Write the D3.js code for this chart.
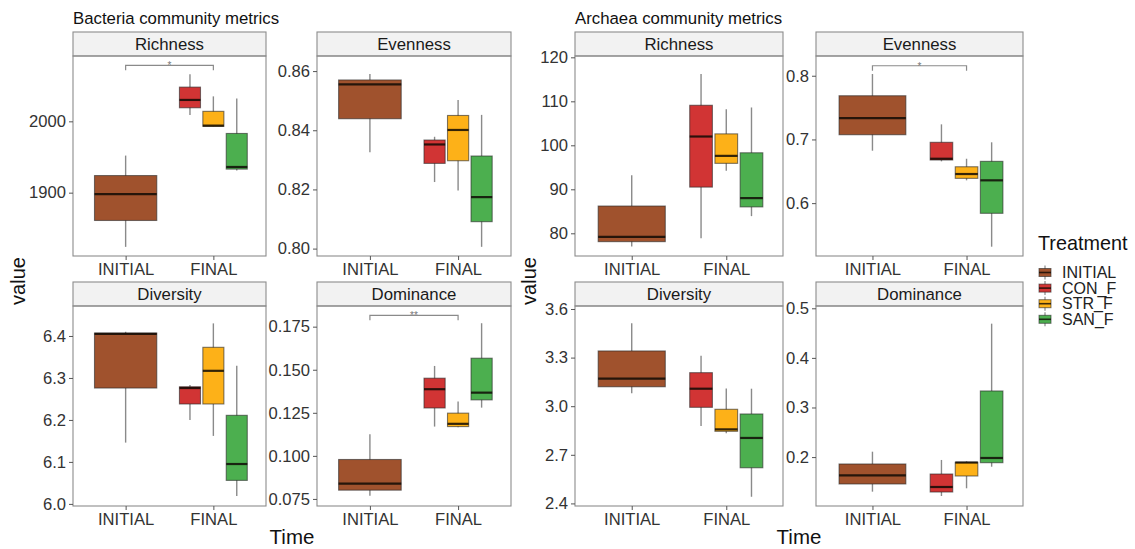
<!DOCTYPE html>
<html>
<head>
<meta charset="utf-8">
<script src="https://cdn.jsdelivr.net/npm/d3@7"></script>
<style>
body { margin: 0; background: #fff; }
svg text { font-family: "Liberation Sans", Arial, sans-serif; }
</style>
</head>
<body>
<svg id="chart" width="1135" height="549"></svg>
<script>
// categories
var treatments = ["INITIAL", "CON_F", "STR_F", "SAN_F"];
var times = ["INITIAL", "FINAL"];
var metrics = ["Richness", "Evenness", "Diversity", "Dominance"];
var groups = ["Bacteria community metrics", "Archaea community metrics"];

// box stats per treatment: [lower whisker, Q1, median, Q3, upper whisker]
var bacRichness = [[1824, 1861, 1898, 1924, 1952], [2009, 2019, 2030, 2048, 2066], [1993, 1993, 1994, 2014, 2035], [1931, 1933, 1936, 1983, 2032]];
var bacEvenness = [[0.8326, 0.8439, 0.8555, 0.8570, 0.8590], [0.8225, 0.8288, 0.8352, 0.8367, 0.8378], [0.8196, 0.8297, 0.8401, 0.8450, 0.8502], [0.8006, 0.8091, 0.8174, 0.8313, 0.8452]];
var bacDiversity = [[6.146, 6.276, 6.405, 6.407, 6.410], [6.200, 6.238, 6.276, 6.279, 6.283], [6.162, 6.238, 6.317, 6.373, 6.430], [6.019, 6.056, 6.095, 6.211, 6.329]];
var bacDominance = [[0.0768, 0.0801, 0.0839, 0.0979, 0.1126], [0.1170, 0.1278, 0.1387, 0.1451, 0.1522], [0.1166, 0.1170, 0.1186, 0.1248, 0.1315], [0.1280, 0.1325, 0.1367, 0.1567, 0.1770]];
var arcRichness = [[77.0, 78.1, 79.2, 86.2, 93.2], [78.9, 90.5, 102.0, 109.1, 116.2], [94.2, 95.9, 97.6, 102.6, 108.2], [83.9, 86.0, 88.0, 98.3, 108.6]];
var arcEvenness = [[0.6823, 0.7074, 0.7336, 0.7686, 0.8027], [0.6656, 0.6677, 0.6697, 0.6955, 0.7237], [0.6358, 0.6389, 0.6457, 0.6571, 0.6697], [0.5316, 0.5840, 0.6358, 0.6656, 0.6955]];
var arcDiversity = [[3.080, 3.120, 3.170, 3.341, 3.512], [2.878, 2.993, 3.108, 3.207, 3.312], [2.833, 2.845, 2.857, 2.981, 3.110], [2.441, 2.620, 2.804, 2.952, 3.108]];
var arcDominance = [[0.1303, 0.1458, 0.1633, 0.1861, 0.2109], [0.1216, 0.1296, 0.1397, 0.1659, 0.1942], [0.1371, 0.1619, 0.1890, 0.1895, 0.1915], [0.1806, 0.1887, 0.1982, 0.3333, 0.4690]];

// y scale limits
var bacRichnessRange = [1811.2, 2091.6];
var bacEvennessRange = [0.7975, 0.8651];
var bacDiversityRange = [5.995, 6.4714];
var bacDominanceRange = [0.0709, 0.187];
var arcRichnessRange = [74.84, 120.3];
var arcEvennessRange = [0.517, 0.831];
var arcDiversityRange = [2.384, 3.6185];
var arcDominanceRange = [0.1014, 0.5046];

// tick labels
var bacRichnessTicks = ["1900", "2000"];
var bacEvennessTicks = ["0.80", "0.82", "0.84", "0.86"];
var bacDiversityTicks = ["6.0", "6.1", "6.2", "6.3", "6.4"];
var bacDominanceTicks = ["0.075", "0.100", "0.125", "0.150", "0.175"];
var arcRichnessTicks = ["80", "90", "100", "110", "120"];
var arcEvennessTicks = ["0.6", "0.7", "0.8"];
var arcDiversityTicks = ["2.4", "2.7", "3.0", "3.3", "3.6"];
var arcDominanceTicks = ["0.2", "0.3", "0.4", "0.5"];

// significance brackets (INITIAL vs FINAL)
var bacRichnessSig = [2078.5, "*"];
var bacDominanceSig = [0.1816, "**"];
var arcEvennessSig = [0.8157, "*"];

var fills = ["#a0522d", "#d13434", "#fdb118", "#4caf4f"];

var svg = d3.select('#chart');
svg.append('rect').attr('width', 1135).attr('height', 549).attr('fill', '#fff');

// layout
var colLeft = [73, 317, 575, 816];
var colRight = [266, 511, 783, 1023];
var stripTop = [32, 282];
var plotTop = [56, 306];
var plotBottom = [256, 506];

var panels = [
    {col: 0, row: 0, metric: 0, stats: bacRichness, range: bacRichnessRange, ticks: bacRichnessTicks, sig: bacRichnessSig},
    {col: 1, row: 0, metric: 1, stats: bacEvenness, range: bacEvennessRange, ticks: bacEvennessTicks},
    {col: 0, row: 1, metric: 2, stats: bacDiversity, range: bacDiversityRange, ticks: bacDiversityTicks},
    {col: 1, row: 1, metric: 3, stats: bacDominance, range: bacDominanceRange, ticks: bacDominanceTicks, sig: bacDominanceSig},
    {col: 2, row: 0, metric: 0, stats: arcRichness, range: arcRichnessRange, ticks: arcRichnessTicks},
    {col: 3, row: 0, metric: 1, stats: arcEvenness, range: arcEvennessRange, ticks: arcEvennessTicks, sig: arcEvennessSig},
    {col: 2, row: 1, metric: 2, stats: arcDiversity, range: arcDiversityRange, ticks: arcDiversityTicks},
    {col: 3, row: 1, metric: 3, stats: arcDominance, range: arcDominanceRange, ticks: arcDominanceTicks}
];

function drawPanel(p) {
    var x0 = colLeft[p.col], x1 = colRight[p.col];
    var top = plotTop[p.row], bottom = plotBottom[p.row];
    var g = svg.append('g');

    var x = d3.scalePoint().domain(times).range([x0, x1]).padding(0.6);
    var y = d3.scaleLinear().domain(p.range).range([bottom, top]);
    var unit = x.step();

    // strip
    g.append('rect')
        .attr('x', x0).attr('y', stripTop[p.row])
        .attr('width', x1 - x0).attr('height', top - stripTop[p.row])
        .attr('fill', '#f2f2f2').attr('stroke', '#8c8c8c').attr('stroke-width', 1.1);
    g.append('text')
        .attr('x', (x0 + x1) / 2).attr('y', (stripTop[p.row] + top) / 2)
        .attr('dy', '0.35em').attr('text-anchor', 'middle')
        .attr('font-size', '16.8px').attr('fill', '#1a1a1a')
        .text(metrics[p.metric]);

    // boxes: INITIAL alone, FINAL dodged into three
    var boxes = p.stats.map(function(s, i) {
        var cx, w;
        if (i === 0) {
            cx = x('INITIAL');
            w = 0.71 * unit;
        } else {
            cx = x('FINAL') + (i - 2) * 0.2667 * unit;
            w = 0.24 * unit;
        }
        return {s: s, cx: cx, w: w, fill: fills[i]};
    });

    var bg = g.selectAll('g.box').data(boxes).enter().append('g').attr('class', 'box');
    bg.append('line')
        .attr('x1', function(d) { return d.cx; }).attr('x2', function(d) { return d.cx; })
        .attr('y1', function(d) { return y(d.s[0]); }).attr('y2', function(d) { return y(d.s[4]); })
        .attr('stroke', '#8a8a8a').attr('stroke-width', 1.4);
    bg.append('rect')
        .attr('x', function(d) { return d.cx - d.w / 2; })
        .attr('y', function(d) { return y(d.s[3]); })
        .attr('width', function(d) { return d.w; })
        .attr('height', function(d) { return y(d.s[1]) - y(d.s[3]); })
        .attr('fill', function(d) { return d.fill; })
        .attr('stroke', 'rgba(40,40,40,0.6)').attr('stroke-width', 1.1);
    bg.append('line')
        .attr('x1', function(d) { return d.cx - d.w / 2; }).attr('x2', function(d) { return d.cx + d.w / 2; })
        .attr('y1', function(d) { return y(d.s[2]); }).attr('y2', function(d) { return y(d.s[2]); })
        .attr('stroke', 'rgba(15,10,5,0.85)').attr('stroke-width', 2.2);

    // significance bracket
    if (p.sig) {
        var by = y(p.sig[0]);
        var xa = x('INITIAL'), xb = x('FINAL');
        g.append('path')
            .attr('d', 'M' + xa + ',' + (by + 5) + 'V' + by + 'H' + xb + 'V' + (by + 5))
            .attr('fill', 'none').attr('stroke', '#8a8a8a').attr('stroke-width', 1.2);
        g.append('text')
            .attr('x', (xa + xb) / 2).attr('y', by + 4)
            .attr('text-anchor', 'middle').attr('font-size', '10px').attr('fill', '#777')
            .text(p.sig[1]);
    }

    // panel border
    g.append('rect')
        .attr('x', x0).attr('y', top)
        .attr('width', x1 - x0).attr('height', bottom - top)
        .attr('fill', 'none').attr('stroke', '#8c8c8c').attr('stroke-width', 1.1);

    // axes
    var ya = g.append('g').attr('transform', 'translate(' + x0 + ',0)')
        .call(d3.axisLeft(y).tickValues(p.ticks.map(Number)).tickSize(4).tickPadding(3)
            .tickFormat(function(d, i) { return p.ticks[i]; }));
    var xa2 = g.append('g').attr('transform', 'translate(0,' + bottom + ')')
        .call(d3.axisBottom(x).tickSize(4).tickPadding(3.5));
    [ya, xa2].forEach(function(a) {
        a.select('.domain').remove();
        a.selectAll('.tick line').attr('stroke', '#555');
        a.selectAll('.tick text').attr('font-size', '16.6px').attr('fill', '#333')
            .attr('font-family', '"Liberation Sans", Arial, sans-serif');
    });
}

panels.forEach(drawPanel);

// group titles and axis titles
var groupLeft = [colLeft[0], colLeft[2]];
var groupRight = [colRight[1], colRight[3]];
var valueX = [18, 529];
groups.forEach(function(t, i) {
    svg.append('text')
        .attr('x', groupLeft[i]).attr('y', 23.5)
        .attr('font-size', '16.8px').attr('fill', '#111')
        .text(t);
    svg.append('text')
        .attr('x', (groupLeft[i] + groupRight[i]) / 2).attr('y', 544)
        .attr('text-anchor', 'middle').attr('font-size', '20.5px').attr('fill', '#111')
        .text('Time');
    svg.append('text')
        .attr('transform', 'translate(' + valueX[i] + ',281) rotate(-90)')
        .attr('dy', '0.35em').attr('text-anchor', 'middle')
        .attr('font-size', '20px').attr('fill', '#111')
        .text('value');
});

// legend
var legend = svg.append('g');
legend.append('text')
    .attr('x', 1038).attr('y', 250)
    .attr('font-size', '19.8px').attr('fill', '#111')
    .text('Treatment');
var items = legend.selectAll('g.item').data(treatments).enter().append('g')
    .attr('class', 'item')
    .attr('transform', function(d, i) { return 'translate(0,' + (272.5 + i * 15.6) + ')'; });
items.append('line')
    .attr('x1', 1045).attr('x2', 1045).attr('y1', -7).attr('y2', 7)
    .attr('stroke', '#8a8a8a').attr('stroke-width', 1.2);
items.append('rect')
    .attr('x', 1039).attr('y', -4).attr('width', 12).attr('height', 8)
    .attr('fill', function(d, i) { return fills[i]; })
    .attr('stroke', 'rgba(40,40,40,0.6)').attr('stroke-width', 1);
items.append('line')
    .attr('x1', 1039).attr('x2', 1051).attr('y1', 0).attr('y2', 0)
    .attr('stroke', 'rgba(15,10,5,0.8)').attr('stroke-width', 1.6);
items.append('text')
    .attr('x', 1062).attr('y', 0).attr('dy', '0.36em')
    .attr('font-size', '16px').attr('fill', '#222')
    .text(function(d) { return d; });
</script>
</body>
</html>
